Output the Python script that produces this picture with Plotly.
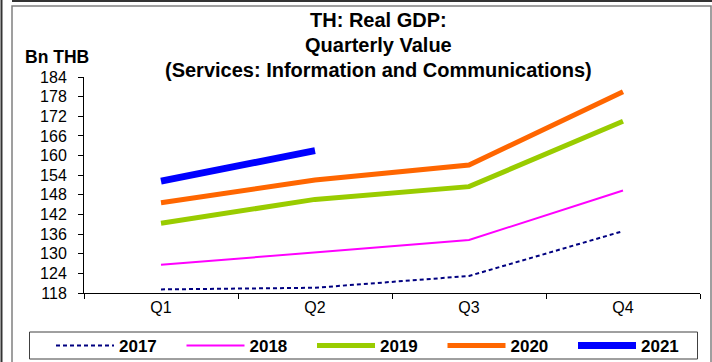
import plotly.graph_objects as go

quarters = ["Q1", "Q2", "Q3", "Q4"]
v2017 = [119.1, 119.6, 123.2, 136.9]
v2018 = [126.6, 130.3, 134.2, 149.3]
v2019 = [139.3, 146.6, 150.5, 170.5]
v2020 = [145.6, 152.5, 157.1, 179.5]
v2021 = [152.2, 161.5]
y_ticks = [118, 124, 130, 136, 142, 148, 154, 160, 166, 172, 178, 184]

W, H = 712, 362
L, R, T, B = 84, 12, 77, 69
PW, PH = W - L - R, H - T - B

def px(x):
    return (x - L) / PW

def py(y):
    return (H - B - y) / PH

FONT = "Liberation Sans, Arial, sans-serif"

fig = go.Figure()
series = [
    ("2017", v2017, "#000080", 2, "4px,3px"),
    ("2018", v2018, "#FF00FF", 2, "solid"),
    ("2019", v2019, "#99CC00", 5, "solid"),
    ("2020", v2020, "#FF6600", 5, "solid"),
    ("2021", v2021, "#0000FF", 7, "solid"),
]
for name, vals, col, w, dash in series:
    fig.add_trace(go.Scatter(
        x=quarters[:len(vals)], y=vals, name=name, mode="lines",
        line=dict(color=col, width=w, dash=dash),
    ))

shapes = [
    # outer frame
    dict(type="rect", xref="paper", yref="paper", x0=px(12), x1=px(711), y0=py(6), y1=py(364),
         line=dict(color="#808080", width=1.5)),
    dict(type="line", xref="paper", yref="paper", x0=px(12), x1=px(712), y0=py(1), y1=py(1),
         line=dict(color="#333333", width=2)),
    dict(type="line", xref="paper", yref="paper", x0=px(1.5), x1=px(1.5), y0=py(0), y1=py(362),
         line=dict(color="#333333", width=2)),
    # legend box
    dict(type="rect", xref="paper", yref="paper", x0=px(29.5), x1=px(697.5), y0=py(332), y1=py(359),
         line=dict(color="#404040", width=1)),
]

annotations = [
    dict(text="<b>TH: Real GDP:</b>", x=px(378), y=py(20)),
    dict(text="<b>Quarterly Value</b>", x=px(378), y=py(45)),
    dict(text="<b>(Services: Information and Communications)</b>", x=px(378), y=py(70)),
]
anns = []
for a in annotations:
    a.update(xref="paper", yref="paper", showarrow=False, xanchor="center", yanchor="middle",
             font=dict(family=FONT, size=20, color="black"))
    anns.append(a)
anns.append(dict(text="<b>Bn THB</b>", xref="paper", yref="paper", x=px(57), y=py(57),
                 showarrow=False, xanchor="center", yanchor="middle",
                 font=dict(family=FONT, size=17.5, color="black")))

fig.update_layout(
    width=W, height=H,
    margin=dict(l=L, r=R, t=T, b=B, autoexpand=False),
    paper_bgcolor="white", plot_bgcolor="white",
    font=dict(family=FONT, size=16, color="black"),
    shapes=shapes,
    annotations=anns,
    showlegend=True,
    legend=dict(
        orientation="h", x=px(51), y=py(346), xanchor="left", yanchor="middle",
        bgcolor="rgba(0,0,0,0)", borderwidth=0,
        font=dict(family=FONT, size=17, color="black", weight="bold"),
        itemwidth=58, entrywidth=57.5, entrywidthmode="pixels",
        traceorder="normal",
    ),
    xaxis=dict(
        type="category", categoryorder="array", categoryarray=quarters,
        range=[-0.5, 3.5], tickson="boundaries", ticks="outside", ticklen=5,
        tickcolor="black", showline=True, linecolor="black", linewidth=1,
        showgrid=False, zeroline=False, fixedrange=True,
        tickfont=dict(family=FONT, size=16),
    ),
    yaxis=dict(
        range=[118, 184], tickvals=y_ticks, ticks="outside", ticklen=5,
        tickcolor="black", showline=True, linecolor="black", linewidth=1,
        showgrid=False, zeroline=False, fixedrange=True,
        tickfont=dict(family=FONT, size=16), ticklabelstandoff=8,
    ),
)

fig.write_html("out.html", config={"displayModeBar": False},
               post_script="document.body.style.margin='0';document.body.style.overflow='hidden';")
